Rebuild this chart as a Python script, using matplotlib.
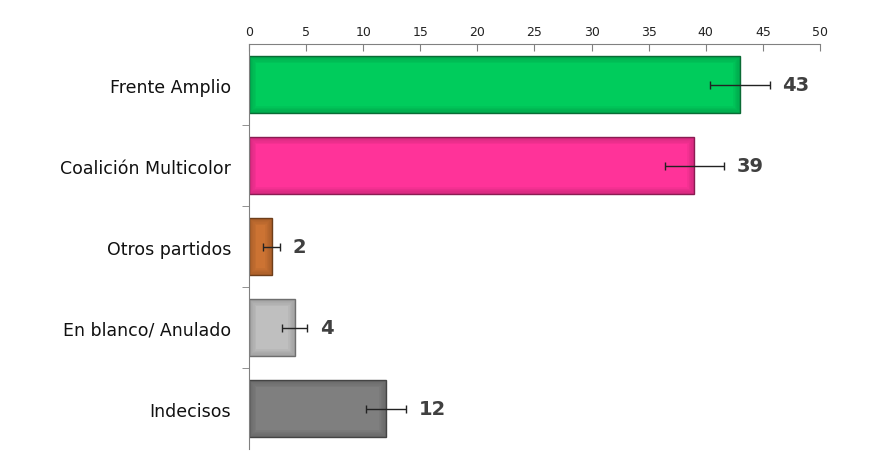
import numpy as np
import matplotlib.pyplot as plt
from matplotlib.ticker import FixedLocator

categorias = ['Frente Amplio', 'Coalición Multicolor', 'Otros partidos',
              'En blanco/ Anulado', 'Indecisos']
valores = [43, 39, 2, 4, 12]
errores = [2.6, 2.6, 0.75, 1.1, 1.75]
colores = ['#00CC5C', '#FF3399', '#CC7333', '#BFBFBF', '#7F7F7F']
bordes = ['#0A6B35', '#8A1C52', '#6E3E1A', '#6E6E6E', '#444444']

fig = plt.figure(figsize=(8.7, 4.64), dpi=100)
ax = fig.add_axes([0.2862, 0.030, 0.6563, 0.873])

y = np.arange(len(categorias))
barras = ax.barh(y, valores, height=0.7, color=colores, edgecolor=bordes, linewidth=1)

# sombra interior suave en el borde de cada barra
for b, c in zip(barras, bordes):
    for lw in [10, 8, 6, 4, 2]:
        sombra = ax.barh(b.get_y() + b.get_height() / 2, b.get_width(),
                         height=b.get_height(), color='none', edgecolor=c,
                         linewidth=lw, alpha=0.08)[0]
        sombra.set_clip_path(b)

ax.errorbar(valores, y, xerr=errores, fmt='none', ecolor='#222222',
            elinewidth=1, capsize=3, capthick=1, zorder=5)

for yi, v, e in zip(y, valores, errores):
    ax.text(v + e + 1.1, yi, str(v), va='center', ha='left',
            fontsize=14, fontweight='bold', color='#404040')

ax.set_xlim(0, 50)
ax.set_ylim(len(categorias) - 0.5, -0.5)
ax.set_xticks(range(0, 51, 5))
ax.xaxis.tick_top()
ax.tick_params(axis='x', direction='in', length=5, color='#808080',
               labelsize=9, pad=4, labelcolor='#222222')

ax.set_yticks(y)
ax.set_yticklabels(categorias, fontsize=12.5, color='#111111')
ax.tick_params(axis='y', which='major', length=0, pad=13)
ax.yaxis.set_minor_locator(FixedLocator(np.arange(0.5, len(categorias) - 1, 1)))
ax.tick_params(axis='y', which='minor', length=5, color='#808080', direction='out')

for s in ['right', 'bottom']:
    ax.spines[s].set_visible(False)
ax.spines['top'].set_color('#808080')
ax.spines['left'].set_color('#808080')

fig.savefig('out.png', dpi=100)
